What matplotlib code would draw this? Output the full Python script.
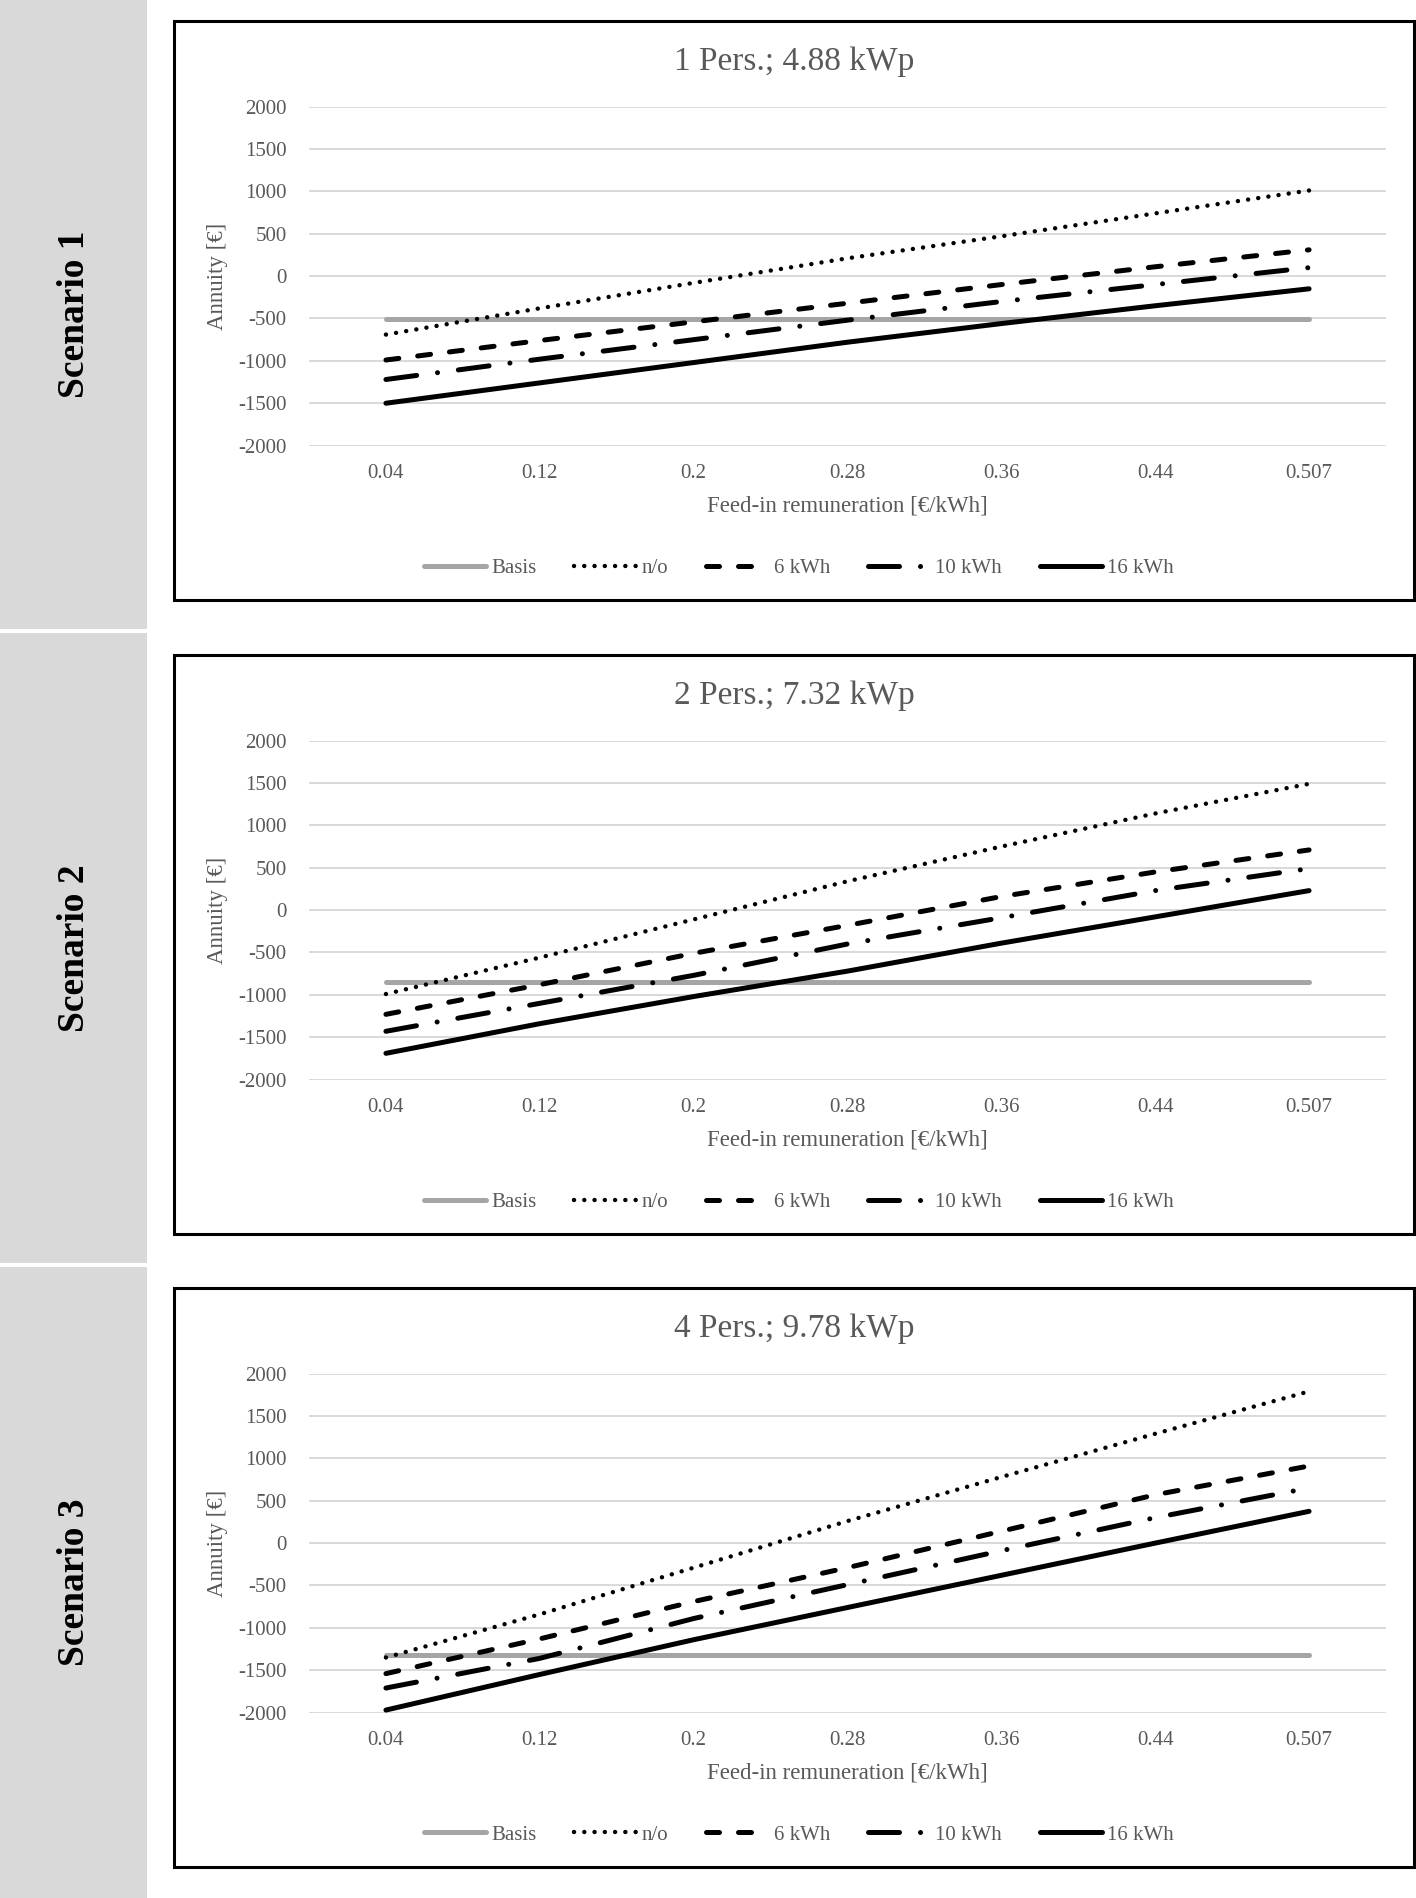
import matplotlib
matplotlib.use("Agg")
import matplotlib.pyplot as plt
from matplotlib.patches import Rectangle
from matplotlib.lines import Line2D

plt.rcParams["font.family"] = ["Liberation Serif", "DejaVu Serif"]
plt.rcParams["axes.unicode_minus"] = False

# ── Data ──────────────────────────────────────────────────────
feed_in = ["0.04", "0.12", "0.2", "0.28", "0.36", "0.44", "0.507"]
series_names = ["Basis", "n/o", "6 kWh", "10 kWh", "16 kWh"]
titles = ["1 Pers.; 4.88 kWp", "2 Pers.; 7.32 kWp", "4 Pers.; 9.78 kWp"]
scenarios = ["Scenario 1", "Scenario 2", "Scenario 3"]

s1_basis = [-510, -510, -510, -510, -510, -510, -510]
s1_no    = [-690, -380, -80, 210, 470, 740, 1010]
s1_6kwh  = [-990, -760, -540, -320, -100, 110, 310]
s1_10kwh = [-1220, -980, -750, -520, -300, -100, 100]
s1_16kwh = [-1500, -1260, -1020, -780, -560, -350, -150]

s2_basis = [-845, -845, -845, -845, -845, -845, -845]
s2_no    = [-990, -560, -110, 340, 750, 1140, 1490]
s2_6kwh  = [-1230, -880, -510, -180, 160, 450, 710]
s2_10kwh = [-1430, -1100, -770, -400, -90, 230, 490]
s2_16kwh = [-1690, -1340, -1020, -720, -390, -80, 230]

s3_basis = [-1320, -1320, -1320, -1320, -1320, -1320, -1320]
s3_no    = [-1350, -840, -290, 260, 780, 1290, 1790]
s3_6kwh  = [-1540, -1130, -690, -290, 140, 570, 910]
s3_10kwh = [-1710, -1360, -890, -490, -90, 300, 650]
s3_16kwh = [-1970, -1550, -1140, -760, -380, 0, 375]

panels = [
    [s1_basis, s1_no, s1_6kwh, s1_10kwh, s1_16kwh],
    [s2_basis, s2_no, s2_6kwh, s2_10kwh, s2_16kwh],
    [s3_basis, s3_no, s3_6kwh, s3_10kwh, s3_16kwh],
]

# ── Style ─────────────────────────────────────────────────────
TEXT = "#595959"
GRID = "#D9D9D9"
styles = [
    dict(color="#A5A5A5", lw=3.6, ls="-", solid_capstyle="round"),
    dict(color="black", lw=3.2, ls=(0, (0.01, 2.3)), dash_capstyle="round"),
    dict(color="black", lw=3.6, ls=(0, (2.6, 3.8)), dash_capstyle="round"),
    dict(color="black", lw=3.6, ls=(0, (6.2, 4.2, 0.01, 4.2)), dash_capstyle="round"),
    dict(color="black", lw=3.6, ls="-", solid_capstyle="round"),
]

W, H = 1416, 1898
fig = plt.figure(figsize=(W / 100, H / 100), dpi=100, facecolor="white")

# left grey bands with scenario names
bands = [(0, 629), (633, 1263), (1267, 1898)]
for (y0, y1), name in zip(bands, scenarios):
    fig.add_artist(Rectangle((0, 1 - y1 / H), 147 / W, (y1 - y0) / H,
                             transform=fig.transFigure, fc="#D9D9D9", ec="none"))
    fig.text(75 / W, 1 - (y0 + y1) / 2 / H, name, rotation=90, ha="center",
             va="center", fontsize=27, fontweight="bold", color="black")

box_tops = [21, 655, 1288]
BOX_H = 579
AX_L, AX_R = 309, 1386
AX_H = 339

for top, title, data in zip(box_tops, titles, panels):
    # chart frame
    fig.add_artist(Rectangle((174 / W, 1 - (top + BOX_H) / H), (1414 - 174) / W,
                             BOX_H / H, transform=fig.transFigure, fill=False,
                             lw=2.2, ec="black"))

    ax_top = top + 85.6
    ax = fig.add_axes([AX_L / W, 1 - (ax_top + AX_H) / H, (AX_R - AX_L) / W, AX_H / H])
    ax.set_facecolor("none")
    xs = list(range(len(feed_in)))
    for vals, st in zip(data, styles):
        ax.plot(xs, vals, zorder=3, **st)

    ax.set_xlim(-0.5, len(feed_in) - 0.5)
    ax.set_ylim(-2000, 2000)
    ax.set_yticks(range(-2000, 2001, 500))
    ax.set_xticks(xs)
    ax.set_xticklabels(feed_in)
    ax.grid(axis="y", color=GRID, lw=1.4, zorder=0)
    for sp in ax.spines.values():
        sp.set_visible(False)
    ax.tick_params(axis="both", length=0, labelsize=15, colors=TEXT)
    ax.tick_params(axis="x", pad=13)
    ax.tick_params(axis="y", pad=16)

    ax.set_xlabel("Feed-in remuneration [€/kWh]", fontsize=16.5, color=TEXT)
    ax.xaxis.set_label_coords(0.5, -60 / AX_H)
    ax.xaxis.label.set_va("center")
    ax.set_ylabel("Annuity [€]", fontsize=16.5, color=TEXT)
    ax.yaxis.set_label_coords((218 - AX_L) / (AX_R - AX_L), 0.5)
    ax.yaxis.label.set_va("center")

    fig.text(794 / W, 1 - (top + 41) / H, title, ha="center", va="center",
             fontsize=24, color=TEXT)

    handles = [Line2D([], [], **st) for st in styles]
    fig.legend(handles, series_names, loc="center",
               bbox_to_anchor=(799 / W, 1 - (top + 547) / H), ncol=5,
               frameon=False, fontsize=15, handlelength=3.0, columnspacing=1.8,
               handletextpad=0.25, labelcolor=TEXT)

fig.savefig("out.png", dpi=100, facecolor="white")
